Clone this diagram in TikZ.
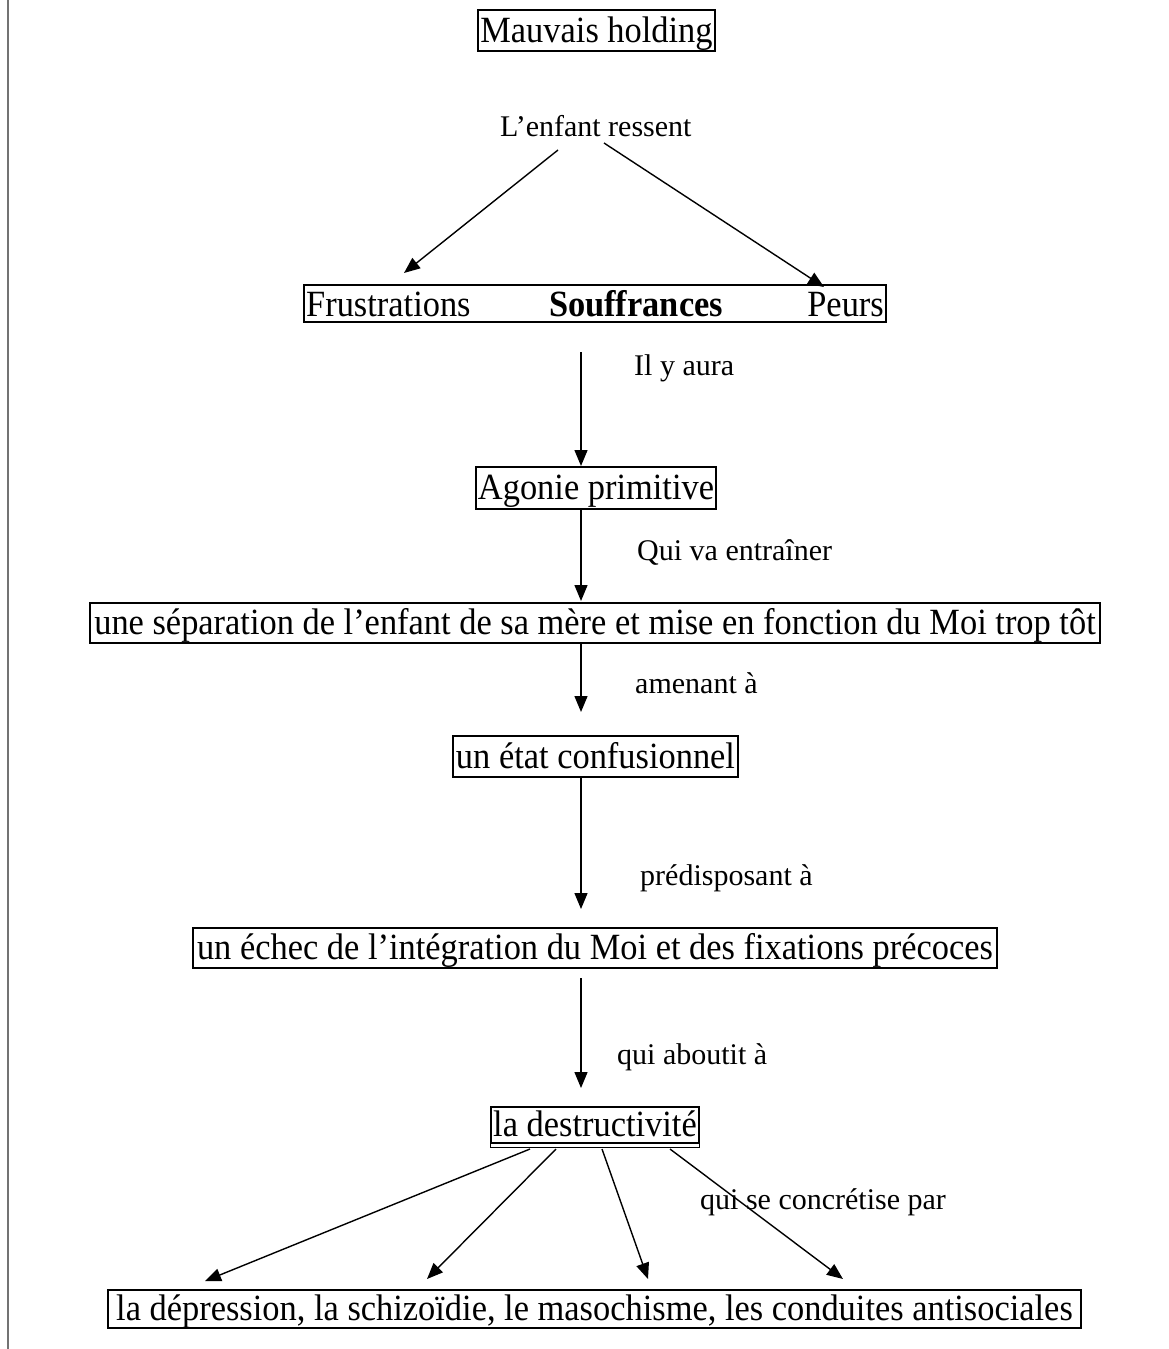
\documentclass[tikz,border=0pt]{standalone}
\usepackage{fontspec}
\setmainfont{Liberation Serif}
\newfontfamily\boxfont{Liberation Serif}[FakeStretch=0.93]
\usetikzlibrary{arrows.meta,calc}
\begin{document}
\begin{tikzpicture}[x=1pt,y=-1pt,
  box/.style={draw, line width=1.3pt, inner sep=0pt, text height=28pt, text depth=5pt,
              font=\boxfont\fontsize{37}{42}\selectfont},
  big/.style={inner sep=0pt, font=\boxfont\fontsize{37}{42}\selectfont},
  lbl/.style={inner sep=0pt, anchor=base west, font=\fontsize{30}{35}\selectfont},
  arr/.style={line width=1.4pt, -{Triangle[length=16pt,width=13pt]}}]
\useasboundingbox (0,0) rectangle (1168,1349);
\fill[white] (0,0) rectangle (1168,1349);
% margin rule along the left edge
\draw[line width=1.5pt, black!55] (8,0) -- (8,1349);

% boxes
\node[box, minimum width=237, minimum height=41] (mh) at (596.5,30.5) {Mauvais holding};
\node[lbl] (enf) at (500,136) {L’enfant ressent};
\node[box, minimum width=582, minimum height=37] (sfp) at (595,303.5) {};
\node[big, anchor=base west] (fru) at (306,316) {Frustrations};
\node[big, anchor=base, font=\boxfont\fontsize{37}{42}\selectfont\bfseries] (sou) at (636,316) {Souffrances};
\node[big, anchor=base east] (peu) at (884,316) {Peurs};
\node[box, minimum width=240, minimum height=42] (ago) at (596,488) {Agonie primitive};
\node[box, minimum width=1010, minimum height=40] (sep) at (595,623) {une séparation de l’enfant de sa mère et mise en fonction du Moi trop tôt};
\node[box, minimum width=285, minimum height=41] (eta) at (595.5,756.5) {un état confusionnel};
\node[box, minimum width=804, minimum height=40] (ech) at (595,948) {un échec de l’intégration du Moi et des fixations précoces};
\node[box, minimum width=208, minimum height=36] (des) at (595,1125) {la destructivité};
\draw[line width=1.3pt] (des.south west) -- ++(0,4) -- ($(des.south east)+(0,4)$) -- (des.south east);
\node[box, minimum width=973, minimum height=38] (fin) at (594.5,1309) {la dépression, la schizoïdie, le masochisme, les conduites antisociales};

% arrow labels
\node[lbl] (l1) at (634,375) {Il y aura};
\node[lbl] (l2) at (637,560) {Qui va entraîner};
\node[lbl] (l3) at (635,693) {amenant à};
\node[lbl] (l4) at (640,885) {prédisposant à};
\node[lbl] (l5) at (617,1064) {qui aboutit à};
\node[lbl] (l6) at (700,1209) {qui se concrétise par};

% arrow end points
\coordinate (e1s) at (558,150); \coordinate (e1t) at (404,273);
\coordinate (e2s) at (604,143); \coordinate (e2t) at (824,287);
\coordinate (a1s) at (581,352); \coordinate (a1t) at (581,466);
\coordinate (a2t) at (581,601);
\coordinate (a3t) at (581,712);
\coordinate (a4t) at (581,909);
\coordinate (a5s) at (581,978); \coordinate (a5t) at (581,1088);
\coordinate (d1s) at (530,1149); \coordinate (d1t) at (205,1281);
\coordinate (d2s) at (556,1149); \coordinate (d2t) at (427,1279);
\coordinate (d3s) at (602,1149); \coordinate (d3t) at (648,1279);
\coordinate (d4s) at (670,1149); \coordinate (d4t) at (843,1279);

% connectors
\draw[arr] (e1s) -- (e1t);
\draw[arr] (e2s) -- (e2t);
\draw[arr] (a1s) -- (a1t);
\draw[arr] (ago.south -| a2t) -- (a2t);
\draw[arr] (sep.south -| a3t) -- (a3t);
\draw[arr] (eta.south -| a4t) -- (a4t);
\draw[arr] (a5s) -- (a5t);
\draw[arr] (d1s) -- (d1t);
\draw[arr] (d2s) -- (d2t);
\draw[arr] (d3s) -- (d3t);
\draw[arr] (d4s) -- (d4t);
\end{tikzpicture}
\end{document}
